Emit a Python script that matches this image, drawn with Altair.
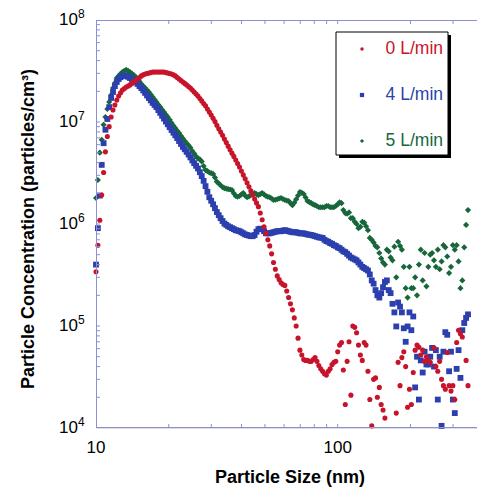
import altair as alt
import pandas as pd

# ---------------- data ----------------
sizes = [10.0, 10.18, 10.37, 10.56, 10.75, 10.94, 11.14, 11.34, 11.55, 11.76, 11.97, 12.19, 12.41,
         12.86, 13.34, 13.82, 14.33, 14.85, 15.40, 15.96, 16.55, 17.15, 17.78, 18.43, 19.11, 19.81,
         20.54, 21.29, 22.07, 22.88, 23.71, 24.58, 25.48, 26.42, 27.38, 28.39, 29.43, 30.51, 31.62,
         32.78, 33.98, 35.22, 36.52, 37.86, 39.24, 40.68, 42.17, 43.71, 45.32, 46.98, 48.70, 50.49,
         52.33, 54.25, 56.23, 58.29, 60.43, 62.65, 64.94, 67.32, 69.78, 72.34, 74.99, 77.74, 80.58,
         83.54, 86.60, 89.78, 93.06, 96.47, 100.0, 103.7, 107.5, 111.4, 115.5, 119.7, 124.1, 128.7,
         133.4, 138.3, 143.4, 148.7, 154.0, 159.7, 165.5, 171.6, 177.8, 184.3, 191.1, 198.1, 205.4,
         212.9, 220.7, 228.8, 237.1, 245.8, 254.8, 264.2, 273.8, 283.9, 294.3, 305.1, 316.2, 327.8,
         339.8]

red_main = [3.4e5, 6.2e5, 1.09e6, 1.92e6, 3.2e6, 5.1e6, 7.2e6, 9.0e6, 1.12e7, 1.31e7, 1.47e7, 1.64e7, 1.8e7,
            2.06e7, 2.2e7, 2.31e7, 2.47e7, 2.64e7, 2.83e7, 2.96e7, 3.02e7, 3.09e7, 3.09e7, 3.09e7, 3.09e7, 3.02e7,
            2.96e7, 2.83e7, 2.64e7, 2.47e7, 2.31e7, 2.15e7, 1.97e7, 1.8e7, 1.61e7, 1.44e7, 1.25e7, 1.09e7, 9.3e6,
            7.98e6, 6.8e6, 5.8e6, 4.95e6, 4.24e6, 3.62e6, 3.03e6, 2.54e6, 2.11e6, 1.76e6, 1.48e6, 1.1e6, 8.1e5,
            6.1e5, 4.2e5, 3.1e5, 2.65e5, 2.5e5, 1.9e5, 1.44e5, 1.0e5, 5.8e4, 4.7e4, 4.6e4, 4.5e4, 4.9e4,
            4.1e4, 3.6e4, 3.3e4, 3.8e4, 4.4e4, 5.6e4, 6.9e4, 1.7e4, 7.0e4, 1.0e5, 8.6e4, 5.2e4, 6.9e4,
            3.6e4, 1.05e4, 3.1e4, 2.5e4, 1.5e4, None, None, None, 4.4e4, 4.9e4, 4.0e4, 2.4e4, 3.5e4,
            6.5e4, 5.2e4, 4.5e4, 4.6e4, None, 4.0e4, 4.5e4, 2.6e4, 5.5e4, 2.3e4, 1.9e4, 9.1e4, 7.8e4,
            4.6e4]

blue_main = [4.0e5, 9.1e5, 1.9e6, 3.8e6, 6.2e6, 8.4e6, 1.07e7, 1.4e7, 1.72e7, 1.97e7, 2.25e7, 2.47e7, 2.64e7,
             2.83e7, 2.83e7, 2.7e7, 2.58e7, 2.36e7, 2.15e7, 1.93e7, 1.72e7, 1.54e7, 1.4e7, 1.23e7, 1.08e7, 9.5e6,
             8.35e6, 7.4e6, 6.5e6, 5.7e6, 5.1e6, 4.5e6, 3.95e6, 3.5e6, 2.95e6, 2.35e6, 1.83e6, 1.56e6, 1.31e6,
             1.14e6, 1.01e6, 9.5e5, 9.1e5, 8.7e5, 8.5e5, 8.1e5, 7.8e5, 7.6e5, 7.8e5, 8.9e5, 8.9e5, 8.1e5,
             8.1e5, 8.3e5, 8.5e5, 8.5e5, 8.7e5, 8.5e5, 8.3e5, 8.3e5, 8.1e5, 8.1e5, 7.9e5, 7.8e5, 7.6e5,
             7.4e5, 7.3e5, 6.8e5, 6.5e5, 6.2e5, 5.9e5, 5.6e5, 5.3e5, 4.9e5, 4.6e5, 4.4e5, 4.0e5, 3.7e5,
             3.5e5, 2.8e5, 2.25e5, 1.9e5, 2.4e5, 2.8e5, 2.1e5, 1.36e5, 1.7e5, 1.36e5, 7.0e4, 1.36e5, 1.24e5,
             5.0e4, 4.6e4, 5.6e4, 4.2e4, 6.1e4, 5.8e4, 5.0e4, 5.6e4, 8.2e4, 5.6e4, 1.4e4, 5.8e4, 9.1e4,
             1.2e5]

green_main = [1.8e6, 2.7e6, 5.0e6, 6.7e6, 9.4e6, 1.12e7, 1.34e7, 1.57e7, 1.84e7, 2.15e7, 2.41e7, 2.7e7, 2.83e7,
              3.09e7, 3.24e7, 3.09e7, 2.89e7, 2.64e7, 2.36e7, 2.15e7, 1.97e7, 1.76e7, 1.57e7, 1.4e7, 1.25e7, 1.12e7,
              9.8e6, 8.7e6, 7.8e6, 6.9e6, 6.2e6, 5.6e6, 4.9e6, 4.4e6, 4.1e6, 3.38e6, 3.2e6, 3.1e6, 2.6e6,
              2.4e6, 2.25e6, 2.2e6, 2.15e6, 1.88e6, 1.88e6, 2.01e6, 1.83e6, 1.92e6, 2.01e6, 1.92e6, 2.01e6, 1.88e6,
              1.83e6, 1.72e6, 1.75e6, 1.8e6, 1.72e6, 1.68e6, 1.53e6, 1.75e6, 2.06e6, 1.97e6, 1.68e6, 1.6e6, 1.53e6,
              1.46e6, 1.46e6, 1.5e6, 1.46e6, 1.46e6, 1.56e6, 1.6e6, 1.28e6, 1.3e6, 1.14e6, 1.0e6, 9.4e5, 1.03e6,
              8.7e5, 7.0e5, 6.1e5, 5.2e5, 4.2e5, 5.6e5, 4.7e5, 6.0e5, 6.7e5, 5.6e5, 2.35e5, 3.8e5, 2.35e5,
              2.0e5, 5.6e5, 5.2e5, 3.8e5, 5.2e5, 3.8e5, 3.6e5, 6.2e5, 4.8e5, 3.8e5, 5.6e5, 4.3e5, 2.8e5,
              9.8e5]

# in-between channels, 12.6 nm to 85 nm
mid_sizes = [12.64, 13.10, 13.58, 14.08, 14.59, 15.13, 15.68, 16.26, 16.85, 17.47, 18.11, 18.77, 19.46,
             20.17, 20.91, 21.68, 22.47, 23.29, 24.15, 25.03, 25.95, 26.90, 27.88, 28.90, 29.96, 31.06,
             32.20, 33.38, 34.60, 35.87, 37.18, 38.54, 39.95, 41.42, 42.94, 44.51, 46.14, 47.83, 49.58,
             51.40, 53.28, 55.23, 57.25, 59.35, 61.53, 63.78, 66.12, 68.54, 71.05, 73.66, 76.36, 79.16,
             82.06, 85.06]

red_mid = [1.93e7, 2.13e7, 2.25e7, 2.39e7, 2.55e7, 2.73e7, 2.9e7, 2.99e7, 3.05e7, 3.09e7, 3.09e7, 3.09e7, 3.05e7,
           2.99e7, 2.9e7, 2.73e7, 2.55e7, 2.39e7, 2.23e7, 2.06e7, 1.88e7, 1.7e7, 1.52e7, 1.34e7, 1.17e7, 1.01e7,
           8.6e6, 7.4e6, 6.3e6, 5.35e6, 4.6e6, 3.92e6, 3.31e6, 2.77e6, 2.32e6, 1.93e6, 1.61e6, 1.28e6, 9.4e5,
           7.0e5, 5.1e5, 3.6e5, 2.85e5, 2.55e5, 2.2e5, 1.65e5, 1.2e5, 7.6e4, 5.2e4, 4.6e4, 4.5e4, 4.7e4,
           4.5e4, 3.8e4]

blue_mid = [2.75e7, 2.85e7, 2.77e7, 2.64e7, 2.47e7, 2.25e7, 2.04e7, 1.82e7, 1.63e7, 1.47e7, 1.31e7, 1.15e7, 1.01e7,
            8.9e6, 7.85e6, 6.95e6, 6.1e6, 5.4e6, 4.8e6, 4.2e6, 3.72e6, 3.22e6, 2.65e6, 2.07e6, 1.69e6, 1.43e6,
            1.22e6, 1.07e6, 9.8e5, 9.3e5, 8.9e5, 8.6e5, 8.3e5, 7.9e5, 7.7e5, 7.6e5, 8.4e5, 9.0e5, 8.5e5,
            8.1e5, 8.2e5, 8.4e5, 8.5e5, 8.6e5, 8.6e5, 8.4e5, 8.3e5, 8.2e5, 8.1e5, 8.0e5, 7.85e5, 7.7e5,
            7.5e5, 7.35e5]

green_mid = [2.97e7, 3.17e7, 3.17e7, 2.99e7, 2.77e7, 2.5e7, 2.25e7, 2.06e7, 1.86e7, 1.66e7, 1.48e7, 1.32e7, 1.18e7,
             1.05e7, 9.2e6, 8.2e6, 7.3e6, 6.5e6, 5.9e6, 5.2e6, 4.6e6, 4.3e6, 3.7e6, 3.3e6, 3.15e6, 2.85e6,
             2.5e6, 2.3e6, 2.22e6, 2.18e6, 2.0e6, 1.85e6, 1.95e6, 1.9e6, 1.86e6, 1.97e6, 1.96e6, 1.96e6, 1.95e6,
             1.85e6, 1.78e6, 1.73e6, 1.78e6, 1.76e6, 1.7e6, 1.6e6, 1.62e6, 1.9e6, 2.02e6, 1.82e6, 1.64e6, 1.56e6,
             1.5e6, 1.46e6]

# in-between channels, 88 nm to 346 nm
tail_sizes = [88.18, 91.41, 94.75, 98.22, 101.8, 105.5, 109.4, 113.4, 117.6, 121.9, 126.4, 131.0, 135.8,
              140.8, 145.9, 151.3, 156.8, 162.6, 168.5, 174.7, 181.1, 187.7, 194.6, 201.7, 209.1, 216.8,
              224.7, 232.9, 241.5, 250.3, 259.5, 269.0, 278.8, 289.0, 299.6, 310.6, 322.0, 333.8, 346.0]

red_tail = [3.4e4, 3.6e4, 4.2e4, 4.5e4, 6.5e4, 3.7e4, 4.5e4, 2.1e4, 9.7e4, 6.5e4, 4.6e4, 6.5e4, 1.9e4,
            3.0e4, 2.0e4, 1.7e4, 1.25e4, None, None, 1.4e4, 2.6e4, 5.6e4, 1.6e4, 1.7e4, 5.8e4, 6.2e4,
            5.8e4, 5.0e4, 4.4e4, 6.1e4, 3.6e4, 3.0e4, 2.4e4, 2.6e4, 2.6e4, 6.9e4, 8.4e4, None, 2.6e4]

blue_tail = [7.0e5, 6.7e5, 6.4e5, 6.1e5, 5.8e5, 5.4e5, 5.1e5, 4.7e5, 4.5e5, 4.2e5, 3.8e5, 3.6e5, 3.2e5,
             2.6e5, 2.0e5, 2.1e5, 2.7e5, 2.25e5, 1.65e5, 9.9e4, 1.55e5, 9.5e4, 9.9e4, 9.1e4, 2.5e4, 1.9e4,
             3.5e4, 4.2e4, 5.0e4, 4.0e4, 1.9e4, 1.05e4, 8.7e4, 3.6e4, 1.9e4, 3.8e4, 3.1e4, 1.07e5, 1.3e5]

green_tail = [1.46e6, 1.5e6, 1.46e6, 1.5e6, 1.63e6, 1.37e6, 1.26e6, 1.14e6, 1.05e6, 9.1e5, 1.05e6, 9.5e5, 7.3e5,
              6.6e5, 5.9e5, 4.6e5, 4.0e5, 5.4e5, 4.4e5, 3.0e5, 6.1e5, 3.8e5, 1.9e5, 2.35e5, 3.0e5, 4.0e5,
              2.8e5, 2.45e5, 5.0e5, 4.4e5, 5.6e5, 4.3e5, 5.9e5, 3.3e5, 6.2e5, 6.2e5, 2.35e5, 5.9e5, 1.37e6]

series_names = ["0 L/min", "4 L/min", "5 L/min"]
series_colors = ["#c8142a", "#2b3fae", "#17673a"]
series_shapes = ["circle", "square", "diamond"]

x_label_values = [10, 100]
x_tick_values = [20, 30, 40, 50, 60, 70, 80, 90, 100, 200, 300]
y_tick_values = [2e4, 3e4, 4e4, 5e4, 6e4, 7e4, 8e4, 9e4, 1e5,
                 2e5, 3e5, 4e5, 5e5, 6e5, 7e5, 8e5, 9e5, 1e6,
                 2e6, 3e6, 4e6, 5e6, 6e6, 7e6, 8e6, 9e6, 1e7,
                 2e7, 3e7, 4e7, 5e7, 6e7, 7e7, 8e7, 9e7]
y_label_values = [1e4, 1e5, 1e6, 1e7, 1e8]
y_label_exponents = ["4", "5", "6", "7", "8"]
x_title = "Particle Size (nm)"
y_title = "Particle Concentration (particles/cm³)"

# ---------------- build tables ----------------
def series_frame(*pairs):
    rows = []
    for xs, ys in pairs:
        for s, v in zip(xs, ys):
            if v is not None:
                rows.append({"size": s, "conc": v})
    return pd.DataFrame(rows)

red_df = series_frame((sizes, red_main), (mid_sizes, red_mid), (tail_sizes, red_tail))
blue_df = series_frame((sizes, blue_main), (mid_sizes, blue_mid), (tail_sizes, blue_tail))
green_df = series_frame((sizes, green_main), (mid_sizes, green_mid), (tail_sizes, green_tail))

W, H = 381, 408
FONT = "Liberation Sans"
AXIS_COLOR = "#8a90d2"

xscale = alt.Scale(type="log", domain=[10, 377], nice=False)
yscale = alt.Scale(type="log", domain=[1e4, 1e8], nice=False)


def points(df, color, shape, size):
    return alt.Chart(df).mark_point(filled=True, shape=shape, size=size, color=color,
                                    opacity=1, strokeWidth=0).encode(
        x=alt.X("size:Q", scale=xscale, axis=None),
        y=alt.Y("conc:Q", scale=yscale, axis=None))


green_layer = points(green_df, series_colors[2], series_shapes[2], 38)
blue_layer = points(blue_df, series_colors[1], series_shapes[1], 34)
red_layer = points(red_df, series_colors[0], series_shapes[0], 26)

one = pd.DataFrame({"a": [0]})

# frame lines (left, bottom, top) and inward ticks
left_line = alt.Chart(one).mark_rule(color=AXIS_COLOR, strokeWidth=1).encode(
    x=alt.value(0.5), y=alt.value(0), y2=alt.value(H))
bottom_line = alt.Chart(one).mark_rule(color=AXIS_COLOR, strokeWidth=1).encode(
    x=alt.value(0), x2=alt.value(W), y=alt.value(H - 0.5))
top_line = alt.Chart(one).mark_rule(color=AXIS_COLOR, strokeWidth=1).encode(
    x=alt.value(0), x2=alt.value(W), y=alt.value(0.5))

xt = pd.DataFrame({"t": x_tick_values})
yt = pd.DataFrame({"t": y_tick_values})
bottom_ticks = alt.Chart(xt).mark_rule(color=AXIS_COLOR, strokeWidth=1).encode(
    x=alt.X("t:Q", scale=xscale, axis=None), y=alt.value(H), y2=alt.value(H - 4))
top_ticks = alt.Chart(xt).mark_rule(color=AXIS_COLOR, strokeWidth=1).encode(
    x=alt.X("t:Q", scale=xscale, axis=None), y=alt.value(0), y2=alt.value(4))
left_ticks = alt.Chart(yt).mark_rule(color=AXIS_COLOR, strokeWidth=1).encode(
    y=alt.Y("t:Q", scale=yscale, axis=None), x=alt.value(0), x2=alt.value(4))

# x labels
xl = pd.DataFrame({"v": x_label_values, "txt": [str(v) for v in x_label_values]})
xlab = alt.Chart(xl).mark_text(align="center", baseline="middle", font=FONT, fontSize=17,
                               color="black").encode(
    x=alt.X("v:Q", scale=xscale, axis=None), y=alt.value(H + 20), text="txt:N")

# y labels 10^n
yl = pd.DataFrame({"v": y_label_values, "e": y_label_exponents, "base": ["10"] * 5})
ylab_base = alt.Chart(yl).mark_text(align="right", baseline="middle", font=FONT, fontSize=17,
                                    color="black").encode(
    y=alt.Y("v:Q", scale=yscale, axis=None), x=alt.value(-18), text="base:N")
ylab_exp = alt.Chart(yl).mark_text(align="left", baseline="middle", font=FONT, fontSize=12,
                                   color="black", dy=-6).encode(
    y=alt.Y("v:Q", scale=yscale, axis=None), x=alt.value(-18), text="e:N")

# axis titles
xtitle = alt.Chart(pd.DataFrame({"t": [x_title]})).mark_text(
    align="center", baseline="middle", font=FONT, fontSize=18, fontWeight="bold", color="black").encode(
    x=alt.value(194), y=alt.value(458), text="t:N")
ytitle = alt.Chart(pd.DataFrame({"t": [y_title]})).mark_text(
    align="center", baseline="middle", font=FONT, fontSize=18, fontWeight="bold", color="black",
    angle=270).encode(
    x=alt.value(-67), y=alt.value(209), text="t:N")

# legend box
shadow = alt.Chart(one).mark_rect(color="black").encode(
    x=alt.value(243), x2=alt.value(355), y=alt.value(15), y2=alt.value(138))
box = alt.Chart(one).mark_rect(fill="white", stroke="black", strokeWidth=1).encode(
    x=alt.value(240), x2=alt.value(352), y=alt.value(12), y2=alt.value(135))
leg = pd.DataFrame({
    "label": series_names,
    "col": series_colors,
    "shp": series_shapes,
    "ms": [12, 18, 18],
    "ly": [29 + 46 * i for i in range(3)],
})
leg_marks = alt.Chart(leg).mark_point(filled=True, opacity=1, strokeWidth=0).encode(
    x=alt.value(266), y=alt.Y("ly:Q", scale=None),
    color=alt.Color("col:N", scale=None), shape=alt.Shape("shp:N", scale=None),
    size=alt.Size("ms:Q", scale=None))
leg_text = alt.Chart(leg).mark_text(align="right", baseline="middle", font=FONT, fontSize=17.5).encode(
    x=alt.value(347), y=alt.Y("ly:Q", scale=None), color=alt.Color("col:N", scale=None),
    text="label:N")

chart = alt.layer(
    green_layer, blue_layer, red_layer,
    left_line, bottom_line, top_line,
    bottom_ticks, top_ticks, left_ticks,
    xlab, ylab_base, ylab_exp, xtitle, ytitle,
    shadow, box, leg_marks, leg_text,
).properties(
    width=W, height=H,
    autosize=alt.AutoSizeParams(type="none"),
    padding={"left": 96, "top": 20, "right": 0, "bottom": 61},
).configure_view(stroke=None).configure(background="white")

chart.save("out.html", embed_options={"renderer": "svg", "actions": False})
